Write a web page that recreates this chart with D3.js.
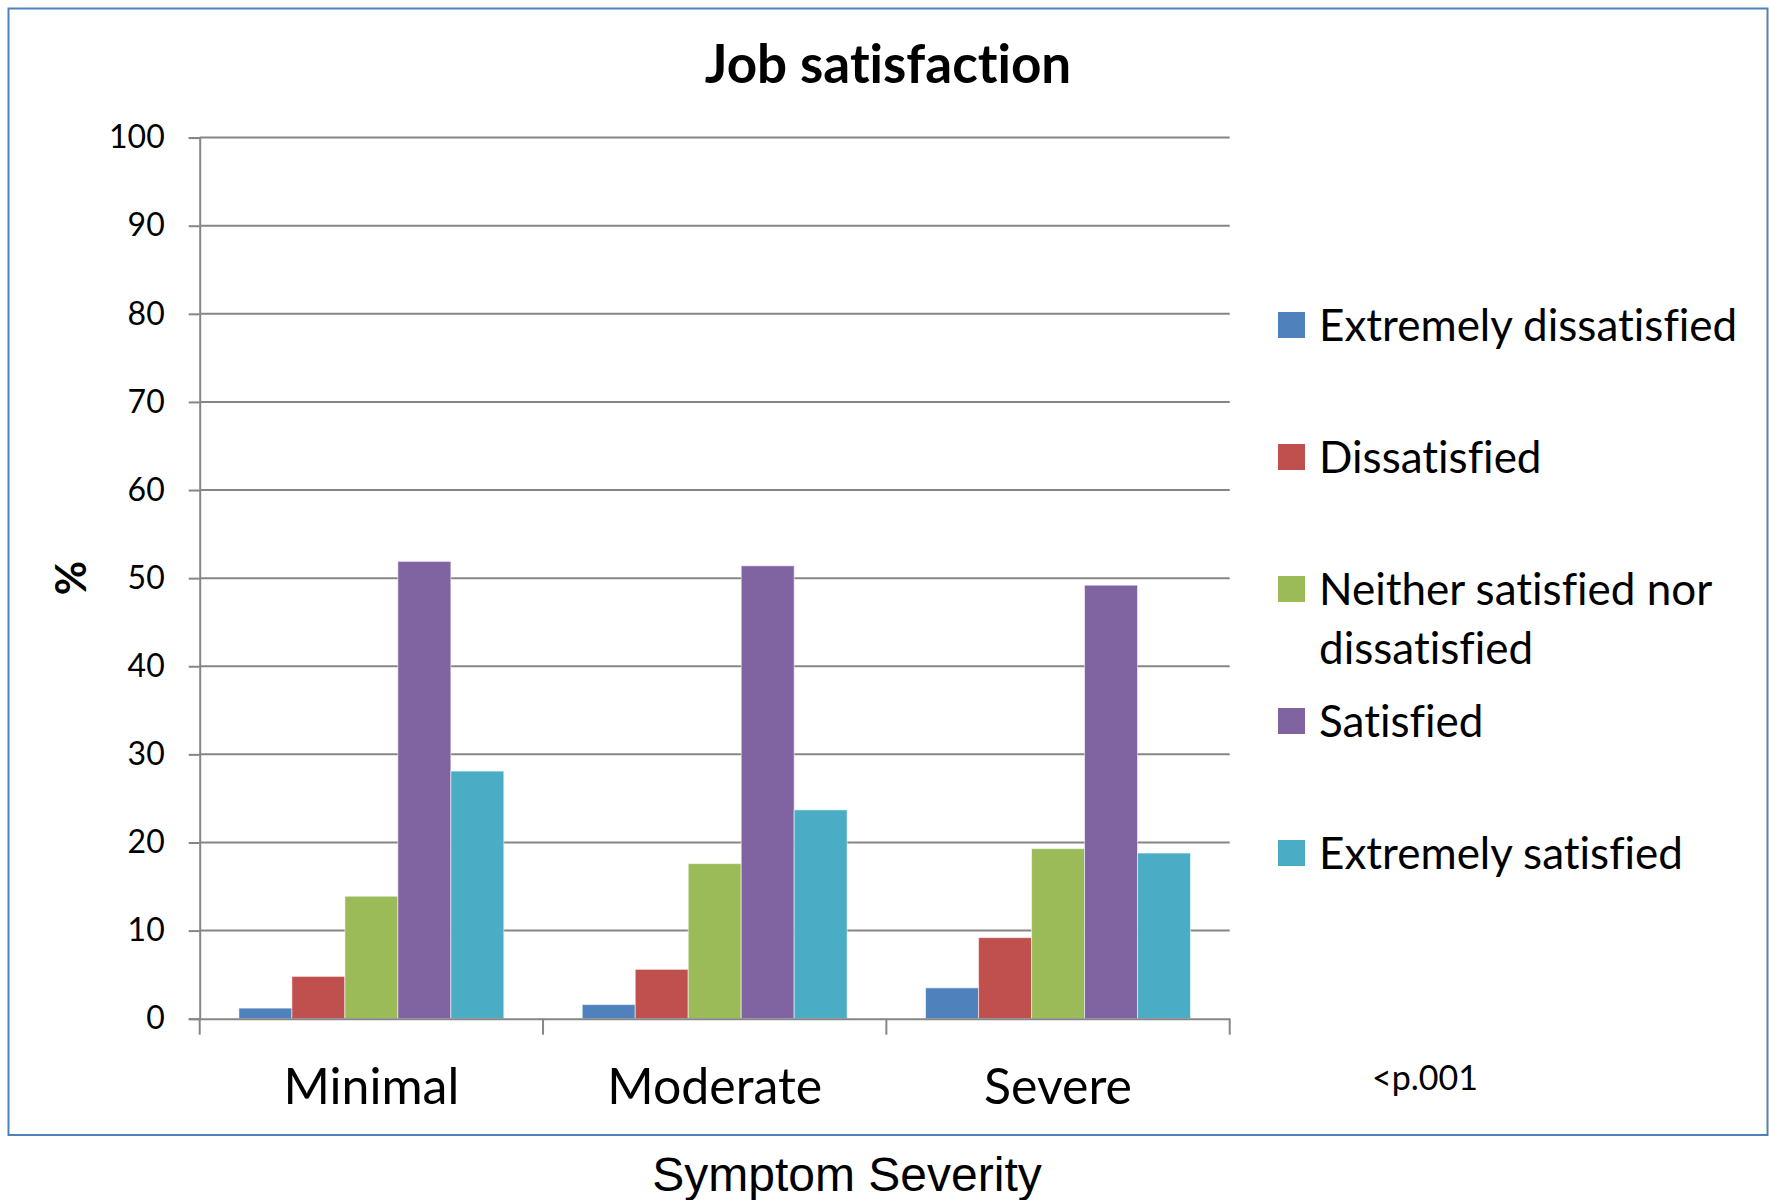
<!DOCTYPE html>
<html>
<head>
<meta charset="utf-8">
<script src="https://cdn.jsdelivr.net/npm/d3@7"></script>
<style>
  html, body { margin: 0; padding: 0; background: #fff; }
  svg { display: block; }
  text { font-family: Lato, "Open Sans", sans-serif; fill: #000; font-variant-ligatures: none; }
</style>
</head>
<body>
<svg id="chart" width="1769" height="1200"></svg>
<script>
// Job satisfaction (%) by symptom severity
const categories = ["Minimal", "Moderate", "Severe"];
const seriesNames = [
  "Extremely dissatisfied",
  "Dissatisfied",
  "Neither satisfied nor dissatisfied",
  "Satisfied",
  "Extremely satisfied"
];
const extremelyDissatisfied = [1.2, 1.6, 3.5];
const dissatisfied          = [4.8, 5.6, 9.2];
const neither               = [13.9, 17.6, 19.3];
const satisfied             = [51.9, 51.4, 49.2];
const extremelySatisfied    = [28.1, 23.7, 18.8];
const seriesValues = [extremelyDissatisfied, dissatisfied, neither, satisfied, extremelySatisfied];
const seriesColors = ["#4F81BD", "#C0504D", "#9BBB59", "#8064A2", "#4BACC6"];
const yTicks = [0, 10, 20, 30, 40, 50, 60, 70, 80, 90, 100];
const legendLines = [
  ["Extremely dissatisfied"],
  ["Dissatisfied"],
  ["Neither satisfied nor", "dissatisfied"],
  ["Satisfied"],
  ["Extremely satisfied"]
];

const svg = d3.select("#chart");

// chart frame
svg.append("rect")
  .attr("x", 8.5).attr("y", 8.5)
  .attr("width", 1759).attr("height", 1126.5)
  .attr("fill", "#fff")
  .attr("stroke", "#4F81BD")
  .attr("stroke-width", 2);

const plot = { left: 199.7, right: 1229.7, top: 137.6, bottom: 1018.7 };

const x0 = d3.scaleBand().domain(categories).range([plot.left, plot.right]).padding(0);
const x1 = d3.scaleBand().domain(d3.range(seriesNames.length))
  .range([0, x0.bandwidth()]).paddingInner(0).paddingOuter(0.74);
const y = d3.scaleLinear().domain([0, 100]).range([plot.bottom, plot.top]);

// horizontal gridlines
svg.append("g")
  .selectAll("line")
  .data(yTicks.filter(d => d > 0))
  .join("line")
  .attr("x1", plot.left).attr("x2", plot.right)
  .attr("y1", d => y(d)).attr("y2", d => y(d))
  .attr("stroke", "#868686").attr("stroke-width", 2);

// bars
const groups = svg.append("g")
  .selectAll("g")
  .data(categories)
  .join("g")
  .attr("transform", c => `translate(${x0(c)},0)`);

groups.selectAll("rect")
  .data((c, ci) => seriesValues.map((vals, si) => ({ si, v: vals[ci] })))
  .join("rect")
  .attr("x", d => x1(d.si))
  .attr("width", x1.bandwidth())
  .attr("y", d => y(d.v))
  .attr("height", d => y(0) - y(d.v))
  .attr("fill", d => seriesColors[d.si])
  .attr("stroke", "rgba(255,255,255,0.55)")
  .attr("stroke-width", 1);

// y axis
const yAxis = svg.append("g")
  .attr("transform", `translate(${plot.left},0)`)
  .call(d3.axisLeft(y).tickValues(yTicks).tickSize(11).tickPadding(24));
yAxis.select(".domain").attr("stroke", "#868686").attr("stroke-width", 2);
yAxis.selectAll(".tick line").attr("stroke", "#868686").attr("stroke-width", 2);
yAxis.selectAll(".tick text")
  .style("font-family", "Lato, sans-serif")
  .style("font-size", "32px")
  .attr("fill", "#000");

// x axis
const xAxis = svg.append("g")
  .attr("transform", `translate(0,${plot.bottom})`)
  .call(d3.axisBottom(x0).tickSize(0).tickPadding(50));
xAxis.select(".domain").attr("stroke", "#868686").attr("stroke-width", 2);
xAxis.selectAll(".tick text")
  .style("font-family", "Lato, sans-serif")
  .style("font-size", "50px")
  .attr("fill", "#000")
  .attr("dy", "0.71em");

// category boundary ticks
svg.append("g")
  .selectAll("line")
  .data(categories.map(c => x0(c)).concat([plot.right]))
  .join("line")
  .attr("x1", d => d).attr("x2", d => d)
  .attr("y1", plot.bottom).attr("y2", plot.bottom + 16)
  .attr("stroke", "#868686").attr("stroke-width", 2);

// title
svg.append("text")
  .attr("x", 888).attr("y", 83)
  .attr("text-anchor", "middle")
  .style("font-size", "53px")
  .style("font-weight", "bold")
  .text("Job satisfaction");

// y axis title
svg.append("text")
  .attr("transform", "translate(86,578) rotate(-90)")
  .attr("text-anchor", "middle")
  .style("font-size", "42px")
  .style("font-weight", "bold")
  .text("%");

// legend
const legendY = [325, 457, 589, 721, 853];
const legend = svg.append("g");
legendLines.forEach((lines, i) => {
  legend.append("rect")
    .attr("x", 1278).attr("y", legendY[i] - 13)
    .attr("width", 27).attr("height", 26)
    .attr("fill", seriesColors[i]);
  lines.forEach((ln, j) => {
    legend.append("text")
      .attr("x", 1319)
      .attr("y", legendY[i] + j * 58.7)
      .attr("dy", "0.36em")
      .style("font-size", "44px")
      .text(ln);
  });
});

// significance note
svg.append("text")
  .attr("x", 1372).attr("y", 1090)
  .style("font-size", "34px")
  .text("<p.001");

// x axis title
svg.append("text")
  .attr("x", 847).attr("y", 1191)
  .attr("text-anchor", "middle")
  .style("font-family", "'Liberation Sans', Arial, sans-serif")
  .style("font-size", "48px")
  .text("Symptom Severity");
</script>
</body>
</html>
